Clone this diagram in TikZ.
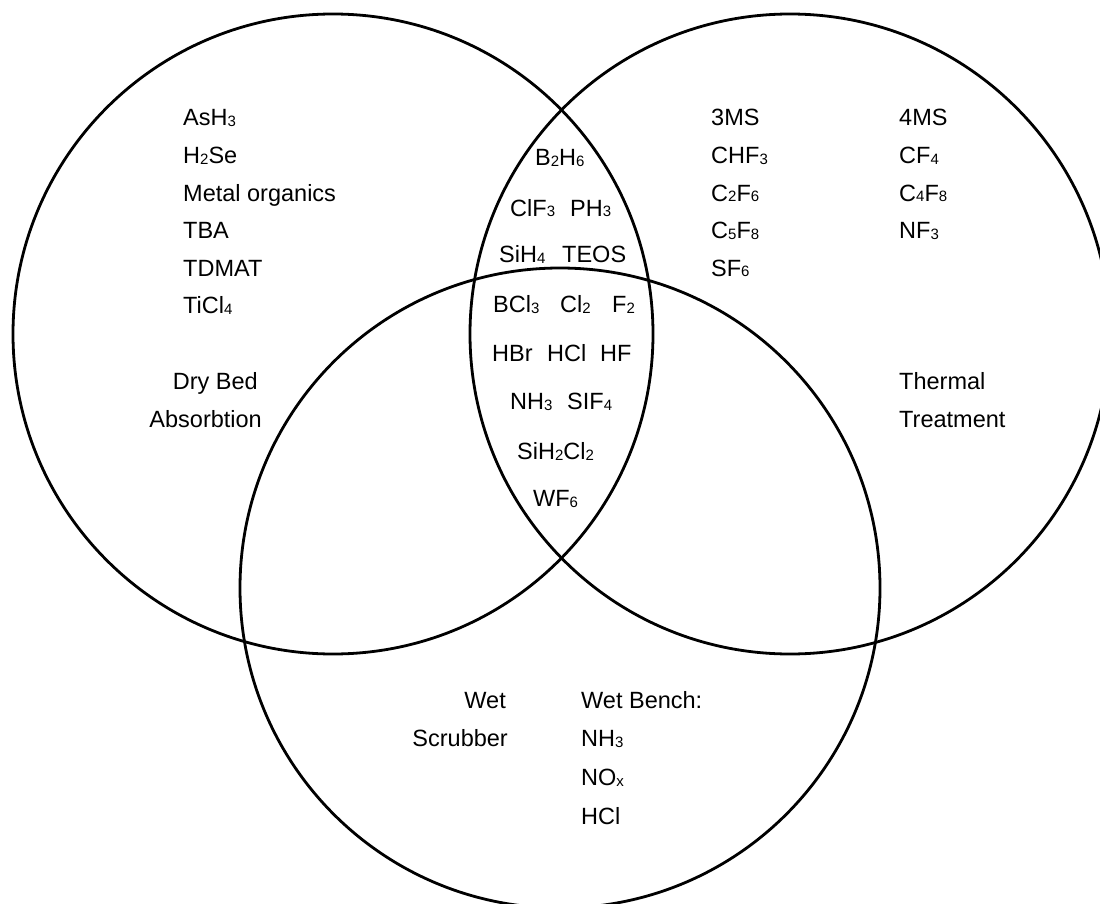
\documentclass[tikz,border=0pt]{standalone}
\usepackage{fontspec}
\setmainfont{Liberation Sans}
\newcommand\sbx[1]{\raisebox{-1pt}{\fontsize{15}{15}\selectfont #1}}
\begin{document}
\begin{tikzpicture}[x=1pt,y=-1pt,
  ring/.style={line width=2.8pt, black},
  lbl/.style={anchor=base west, inner sep=0pt, font=\fontsize{23.5}{28}\selectfont},
  lble/.style={anchor=base east, inner sep=0pt, font=\fontsize{23.5}{28}\selectfont}]
\useasboundingbox (0,0) rectangle (1100,904);
\fill[white] (0,0) rectangle (1100,904);
\clip (0,0) rectangle (1100,904);
\coordinate (cL) at (333,334);
\coordinate (cR) at (790,334);
\coordinate (cB) at (560,588);
\draw[ring] (cL) circle[radius=320pt];
\draw[ring] (cR) circle[radius=320pt];
\draw[ring] (cB) circle[radius=320pt];
% left column
\node[lbl] (l1) at (183,126) {AsH\sbx{3}};
\node[lbl] (l2) at (183,164) {H\sbx{2}Se};
\node[lbl] (l3) at (183,201) {Metal organics};
\node[lbl] (l4) at (183,238) {TBA};
\node[lbl] (l5) at (183,276) {TDMAT};
\node[lbl] (l6) at (183,313) {TiCl\sbx{4}};
\node[lble] (dry) at (258,389) {Dry Bed};
\node[lble] (abs) at (262,427) {Absorbtion};
% right columns
\node[lbl] (r1) at (711,126) {3MS};
\node[lbl] (r2) at (711,164) {CHF\sbx{3}};
\node[lbl] (r3) at (711,201) {C\sbx{2}F\sbx{6}};
\node[lbl] (r4) at (711,239) {C\sbx{5}F\sbx{8}};
\node[lbl] (r5) at (711,276) {SF\sbx{6}};
\node[lbl] (s1) at (899,126) {4MS};
\node[lbl] (s2) at (899,164) {CF\sbx{4}};
\node[lbl] (s3) at (899,201) {C\sbx{4}F\sbx{8}};
\node[lbl] (s4) at (899,239) {NF\sbx{3}};
\node[lbl] (th1) at (899,389) {Thermal};
\node[lbl] (th2) at (899,427) {Treatment};
% center lens
\node[lbl] (m1) at (535,166) {B\sbx{2}H\sbx{6}};
\node[lbl] (m2a) at (510,216) {ClF\sbx{3}};
\node[lbl] (m2b) at (570,216) {PH\sbx{3}};
\node[lbl] (m3a) at (499,262) {SiH\sbx{4}};
\node[lbl] (m3b) at (562,262) {TEOS};
\node[lbl] (m4a) at (493,312) {BCl\sbx{3}};
\node[lbl] (m4b) at (560,312) {Cl\sbx{2}};
\node[lbl] (m4c) at (612,312) {F\sbx{2}};
\node[lbl] (m5a) at (492,361) {HBr};
\node[lbl] (m5b) at (547,361) {HCl};
\node[lbl] (m5c) at (600,361) {HF};
\node[lbl] (m6a) at (510,409) {NH\sbx{3}};
\node[lbl] (m6b) at (567,409) {SIF\sbx{4}};
\node[lbl] (m7) at (517,459) {SiH\sbx{2}Cl\sbx{2}};
\node[lbl] (m8) at (533,506) {WF\sbx{6}};
% bottom
\node[lble] (w1) at (506,708) {Wet};
\node[lble] (w2) at (508,746) {Scrubber};
\node[lbl] (b1) at (581,708) {Wet Bench:};
\node[lbl] (b2) at (581,746) {NH\sbx{3}};
\node[lbl] (b3) at (581,785) {NO\sbx{x}};
\node[lbl] (b4) at (581,824) {HCl};
\end{tikzpicture}
\end{document}
